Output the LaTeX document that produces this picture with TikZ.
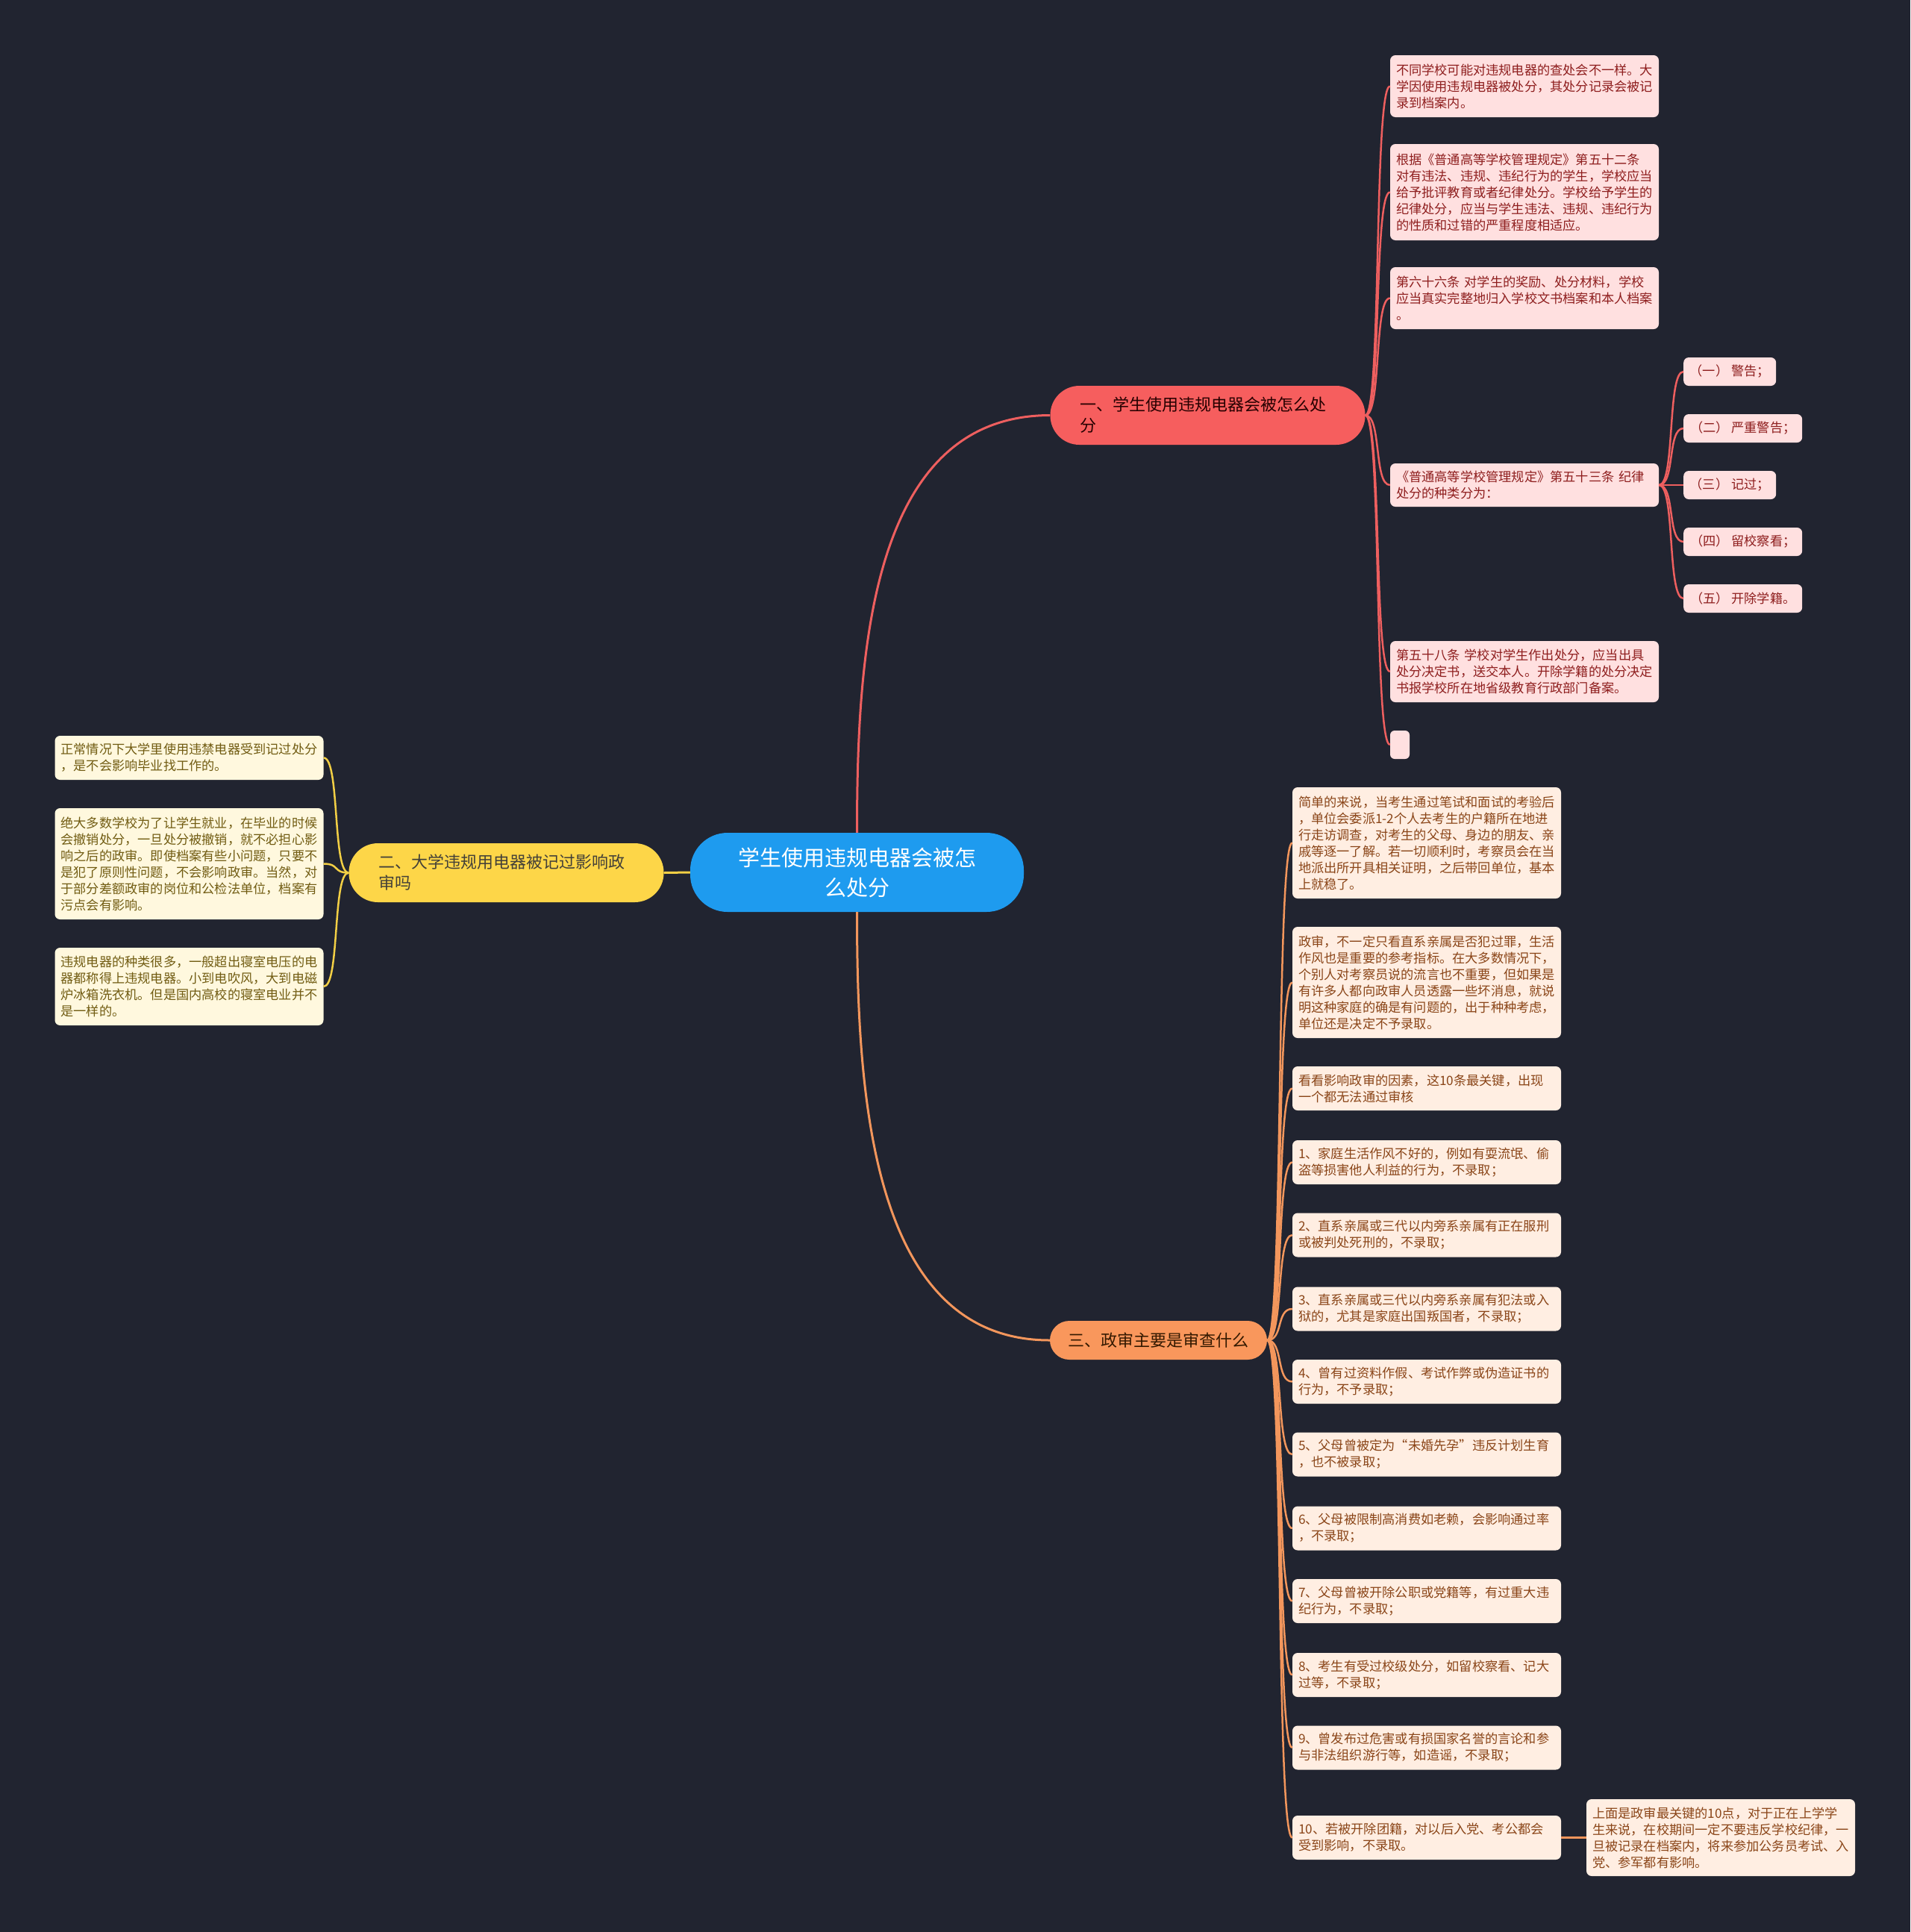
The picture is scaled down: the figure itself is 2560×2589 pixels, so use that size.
\documentclass[tikz,border=0pt]{standalone}
\usepackage{fontspec}
\newfontfamily\cjk{Noto Sans CJK SC}
\definecolor{bg}{HTML}{212430}
\definecolor{cblue}{HTML}{1E9BEF}
\definecolor{cred}{HTML}{F65E5E}
\definecolor{cyel}{HTML}{FDD648}
\definecolor{corg}{HTML}{F9975C}
\definecolor{fred}{HTML}{FFE0E0}
\definecolor{tred}{HTML}{8E1E1E}
\definecolor{fyel}{HTML}{FFF8DE}
\definecolor{tyel}{HTML}{715C12}
\definecolor{forg}{HTML}{FFEEE2}
\definecolor{torg}{HTML}{8A4518}
\definecolor{lred}{HTML}{EE5F5F}
\definecolor{lyel}{HTML}{F2CF45}
\definecolor{lorg}{HTML}{F3965C}
\begin{document}
\begin{tikzpicture}[x=1pt,y=-1pt,
  leaf/.style={rounded corners=7, inner xsep=8, inner ysep=6, text width=344,
    align=left, font=\cjk\fontsize{17.2}{22}\selectfont},
  leafR/.style={leaf, fill=fred, text=tred},
  leafY/.style={leaf, fill=fyel, text=tyel},
  leafO/.style={leaf, fill=forg, text=torg},
  subR/.style={rounded corners=7, inner sep=0, fill=fred, text=tred,
    font=\cjk\fontsize{17.2}{22}\selectfont, minimum height=38, anchor=west},
  branch/.style={inner xsep=40, inner ysep=0, text width=342, align=left,
    font=\cjk\fontsize{22}{28}\selectfont, minimum height=79, rounded corners=39},
  mainlink/.style={line width=3pt},
  leaflink/.style={line width=2.5pt}
]
\fill[bg] (0,0) rectangle (2560,2589);
\useasboundingbox (0,0) rectangle (2560,2589);

% center and branches
\node[fill=cblue, text=white, rounded corners=50, minimum width=447, minimum height=106,
  inner sep=0, text width=340, align=center, font=\cjk\fontsize{29}{40}\selectfont]
  (c) at (1148.5,1169) {学生使用违规电器会被怎\\么处分};
\node[branch, fill=cred, text={black!75!red!60!black}] (b1) at (1618.5,556.5)
  {一、学生使用违规电器会被怎么处\\分};
\node[branch, fill=cyel, text={black!85!yellow}] (b2) at (678.5,1169.5)
  {二、大学违规用电器被记过影响政\\审吗};
\node[fill=corg, text={black!80!orange}, rounded corners=26, minimum width=291,
  minimum height=52, inner sep=0, font=\cjk\fontsize{22}{28}\selectfont]
  (b3) at (1552.5,1796) {三、政审主要是审查什么};

% branch 1 leaves
\node[leafR, minimum height=83] (a1) at (2043,115.5)
  {不同学校可能对违规电器的查处会不一样。大\\学因使用违规电器被处分，其处分记录会被记\\录到档案内。};
\node[leafR, minimum height=129] (a2) at (2043,257.5)
  {根据《普通高等学校管理规定》第五十二条\\对有违法、违规、违纪行为的学生，学校应当\\给予批评教育或者纪律处分。学校给予学生的\\纪律处分，应当与学生违法、违规、违纪行为\\的性质和过错的严重程度相适应。};
\node[leafR, minimum height=83] (a3) at (2043,399.5)
  {第六十六条 对学生的奖励、处分材料，学校\\应当真实完整地归入学校文书档案和本人档案\\。};
\node[leafR, minimum height=58] (a4) at (2043,650)
  {《普通高等学校管理规定》第五十三条 纪律\\处分的种类分为：};
\node[leafR, minimum height=82] (a5) at (2043,900)
  {第五十八条 学校对学生作出处分，应当出具\\处分决定书，送交本人。开除学籍的处分决定\\书报学校所在地省级教育行政部门备案。};
\node[rounded corners=6, fill=fred, inner sep=0, minimum width=26, minimum height=38]
  (a6) at (1876,998) {};

% sub items
\node[subR, minimum width=124] (s1) at (2256,498) {（一） 警告；};
\node[subR, minimum width=159] (s2) at (2256,574) {（二） 严重警告；};
\node[subR, minimum width=124] (s3) at (2256,650) {（三） 记过；};
\node[subR, minimum width=159] (s4) at (2256,726) {（四） 留校察看；};
\node[subR, minimum width=159] (s5) at (2256,802) {（五） 开除学籍。};

% branch 2 leaves
\node[leafY, minimum height=59] (y1) at (253.5,1015.5)
  {正常情况下大学里使用违禁电器受到记过处分\\，是不会影响毕业找工作的。};
\node[leafY, minimum height=149] (y2) at (253.5,1157.5)
  {绝大多数学校为了让学生就业，在毕业的时候\\会撤销处分，一旦处分被撤销，就不必担心影\\响之后的政审。即使档案有些小问题，只要不\\是犯了原则性问题，不会影响政审。当然，对\\于部分差额政审的岗位和公检法单位，档案有\\污点会有影响。};
\node[leafY, minimum height=104] (y3) at (253.5,1322)
  {违规电器的种类很多，一般超出寝室电压的电\\器都称得上违规电器。小到电吹风，大到电磁\\炉冰箱洗衣机。但是国内高校的寝室电业并不\\是一样的。};

% branch 3 leaves
\node[leafO, minimum height=149] (o1) at (1912,1129.5)
  {简单的来说，当考生通过笔试和面试的考验后\\，单位会委派1-2个人去考生的户籍所在地进\\行走访调查，对考生的父母、身边的朋友、亲\\戚等逐一了解。若一切顺利时，考察员会在当\\地派出所开具相关证明，之后带回单位，基本\\上就稳了。};
\node[leafO, minimum height=149] (o2) at (1912,1316.5)
  {政审，不一定只看直系亲属是否犯过罪，生活\\作风也是重要的参考指标。在大多数情况下，\\个别人对考察员说的流言也不重要，但如果是\\有许多人都向政审人员透露一些坏消息，就说\\明这种家庭的确是有问题的，出于种种考虑，\\单位还是决定不予录取。};
\node[leafO, minimum height=59] (o3) at (1912,1458.5)
  {看看影响政审的因素，这10条最关键，出现\\一个都无法通过审核};
\node[leafO, minimum height=59] (o4) at (1912,1557.5)
  {1、家庭生活作风不好的，例如有耍流氓、偷\\盗等损害他人利益的行为，不录取；};
\node[leafO, minimum height=59] (o5) at (1912,1655)
  {2、直系亲属或三代以内旁系亲属有正在服刑\\或被判处死刑的，不录取；};
\node[leafO, minimum height=59] (o6) at (1912,1754)
  {3、直系亲属或三代以内旁系亲属有犯法或入\\狱的，尤其是家庭出国叛国者，不录取；};
\node[leafO, minimum height=59] (o7) at (1912,1851.5)
  {4、曾有过资料作假、考试作弊或伪造证书的\\行为，不予录取；};
\node[leafO, minimum height=59] (o8) at (1912,1949)
  {5、父母曾被定为“未婚先孕”违反计划生育\\，也不被录取；};
\node[leafO, minimum height=59] (o9) at (1912,2048)
  {6、父母被限制高消费如老赖，会影响通过率\\，不录取；};
\node[leafO, minimum height=59] (o10) at (1912,2145.5)
  {7、父母曾被开除公职或党籍等，有过重大违\\纪行为，不录取；};
\node[leafO, minimum height=59] (o11) at (1912,2244.5)
  {8、考生有受过校级处分，如留校察看、记大\\过等，不录取；};
\node[leafO, minimum height=59] (o12) at (1912,2342)
  {9、曾发布过危害或有损国家名誉的言论和参\\与非法组织游行等，如造谣，不录取；};
\node[leafO, minimum height=59] (o13) at (1912,2462.5)
  {10、若被开除团籍，对以后入党、考公都会\\受到影响，不录取。};
\node[leafO, minimum height=103] (o14) at (2306,2462.5)
  {上面是政审最关键的10点，对于正在上学学\\生来说，在校期间一定不要违反学校纪律，一\\旦被记录在档案内，将来参加公务员考试、入\\党、参军都有影响。};

% main connectors
\draw[mainlink, lred] (c.north) .. controls +(0,-241) and +(-241,0) .. (b1.west);
\draw[mainlink, lorg] (c.south) .. controls +(0,241) and +(-241,0) .. (b3.west);
\draw[mainlink, lyel] (c.west) -- (b2.east);

% leaf connectors
\foreach \n in {a1,a2,a3,a4,a5,a6}
  \draw[leaflink, lred] (b1.east) .. controls +(22,0) and +(-22,0) .. (\n.west);
\foreach \n in {s1,s2,s3,s4,s5}
  \draw[leaflink, lred] (a4.east) .. controls +(22,0) and +(-22,0) .. (\n.west);
\foreach \n in {y1,y2,y3}
  \draw[leaflink, lyel] (b2.west) .. controls +(-22,0) and +(22,0) .. (\n.east);
\foreach \n in {o1,o2,o3,o4,o5,o6,o7,o8,o9,o10,o11,o12,o13}
  \draw[leaflink, lorg] (b3.east) .. controls +(22,0) and +(-22,0) .. (\n.west);
\draw[leaflink, lorg] (o13.east) -- (o14.west);
\end{tikzpicture}
\end{document}
